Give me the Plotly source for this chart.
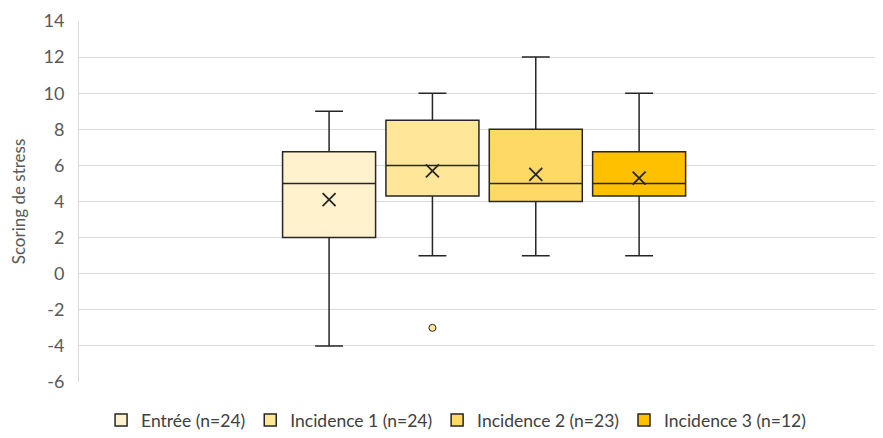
import plotly.graph_objects as go

series = ["Entrée (n=24)", "Incidence 1 (n=24)", "Incidence 2 (n=23)", "Incidence 3 (n=12)"]
positions = [1, 2, 3, 4]
lower = [-4, 1, 1, 1]
q1 = [2, 4.3, 4, 4.3]
median = [5, 6, 5, 5]
q3 = [6.75, 8.5, 8, 6.75]
upper = [9, 10, 12, 10]
means = [4.1, 5.7, 5.5, 5.3]
outlier_series = [2]
outlier_values = [-3]
colors = ["#FFF2CC", "#FFE699", "#FFD966", "#FFC000"]
y_tick_values = [-6, -4, -2, 0, 2, 4, 6, 8, 10, 12, 14]
y_tick_labels = ["-6", "-4", "-2", "0", "2", "4", "6", "8", "10", "12", "14"]

FONT = "Lato"
fig = go.Figure()
for i, name in enumerate(series):
    fig.add_trace(go.Box(
        name=name, x=[positions[i]], q1=[q1[i]], median=[median[i]], q3=[q3[i]],
        lowerfence=[lower[i]], upperfence=[upper[i]],
        fillcolor=colors[i], line=dict(color="#262626", width=1.5),
        width=0.9, whiskerwidth=0.3, boxpoints=False, showlegend=True,
        hoverinfo="y",
    ))

fig.add_trace(go.Scatter(
    x=positions, y=means, mode="markers", showlegend=False,
    marker=dict(symbol="x-thin", size=13, line=dict(color="#262626", width=1.8)),
))
fig.add_trace(go.Scatter(
    x=[positions[s - 1] for s in outlier_series], y=outlier_values, mode="markers",
    showlegend=False,
    marker=dict(symbol="circle", size=7, color=colors[1], line=dict(color="#262626", width=1)),
))

fig.update_layout(
    width=875, height=430,
    margin=dict(l=71, r=0, t=13, b=56, autoexpand=False),
    paper_bgcolor="white", plot_bgcolor="white",
    font=dict(family=FONT, size=18, color="#595959"),
    xaxis=dict(range=[-1.42, 6.36], showticklabels=False, showgrid=False, zeroline=False,
               showline=False, ticks=""),
    yaxis=dict(range=[-6, 14], tickvals=y_tick_values, ticktext=y_tick_labels,
               showgrid=True, gridcolor="#D9D9D9",
               gridwidth=1, zeroline=False, showline=True, linecolor="#D9D9D9",
               ticks="", ticklabelstandoff=10, tickfont=dict(family=FONT, size=18, color="#595959"),
               title=dict(text="Scoring de stress", font=dict(family=FONT, size=17, color="#595959"), standoff=13)),
    legend=dict(orientation="h", x=0.469, xanchor="center", yref="container", y=-0.025, yanchor="bottom",
                font=dict(family=FONT, size=17.5, color="#404040"), itemwidth=30),
)

fig.write_html("out.html")
